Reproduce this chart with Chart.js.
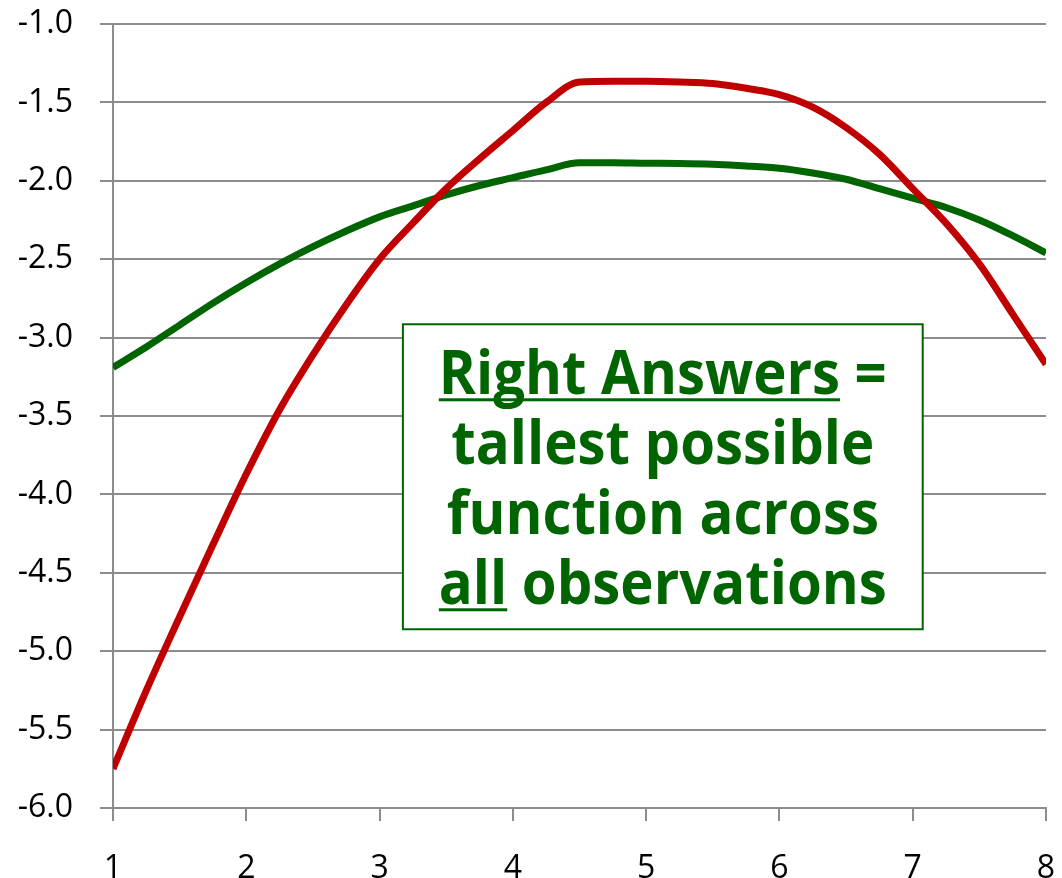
<!DOCTYPE html>
<html>
<head>
<meta charset="utf-8">
<script src="https://cdn.jsdelivr.net/npm/chart.js@4.4.1/dist/chart.umd.min.js"></script>
<style>
  html, body { margin: 0; padding: 0; background: #ffffff; }
  #wrap { width: 1062px; height: 878px; }
</style>
</head>
<body>
<div id="wrap"><canvas id="chartCanvas" width="1062" height="878"></canvas></div>
<script>
// x positions shared by both curves
const xValues = [1, 1.25, 1.5, 1.75, 2, 2.25, 2.5, 2.75, 3, 3.25, 3.5, 3.75, 4, 4.25, 4.5,
                 4.75, 5, 5.25, 5.5, 5.75, 6, 6.25, 6.5, 6.75, 7, 7.25, 7.5, 7.75, 8];

// red curve (sharp peak)
const redValues = [-5.75, -5.25, -4.78, -4.32, -3.87, -3.46, -3.11, -2.79, -2.5, -2.27, -2.05,
                   -1.86, -1.68, -1.5, -1.37, -1.365, -1.365, -1.37, -1.38, -1.41, -1.45,
                   -1.53, -1.66, -1.83, -2.05, -2.27, -2.53, -2.85, -3.17];

// green curve (tallest across all observations)
const greenValues = [-3.19, -3.06, -2.92, -2.78, -2.65, -2.53, -2.42, -2.32, -2.23, -2.16, -2.09,
                     -2.03, -1.98, -1.93, -1.885, -1.885, -1.888, -1.89, -1.895, -1.905, -1.92,
                     -1.95, -1.99, -2.05, -2.11, -2.17, -2.25, -2.35, -2.46];

const xTicks = [1, 2, 3, 4, 5, 6, 7, 8];
const yTicks = [-1.0, -1.5, -2.0, -2.5, -3.0, -3.5, -4.0, -4.5, -5.0, -5.5, -6.0];

const noteLines = [
  [{ text: "Right Answers", underline: true }, { text: " =", underline: false }],
  [{ text: "tallest possible", underline: false }],
  [{ text: "function across", underline: false }],
  [{ text: "all", underline: true }, { text: " observations", underline: false }]
];

const GREEN = "#006400";
const RED = "#c00000";
const GRID = "#8c8c8c";

function toPoints(ys)
{
  let pts = [];
  for(let i = 0; i < xValues.length; i++)
  {
    pts.push({ x: xValues[i], y: ys[i] });
  }
  return pts;
}

// text box drawn on top of the chart
const notePlugin = {
  id: "noteBox",
  afterDatasetsDraw(chart)
  {
    const ctx = chart.ctx;
    const xs = chart.scales.x;
    const ys = chart.scales.y;
    const left = xs.getPixelForValue(3.175);
    const right = xs.getPixelForValue(7.075);
    const top = ys.getPixelForValue(-2.915);
    const bottom = ys.getPixelForValue(-4.86);

    ctx.save();
    ctx.fillStyle = "#ffffff";
    ctx.fillRect(left, top, right - left, bottom - top);
    ctx.strokeStyle = GREEN;
    ctx.lineWidth = 2;
    ctx.strokeRect(left, top, right - left, bottom - top);

    ctx.font = "bold 60px 'Open Sans'";
    ctx.fillStyle = GREEN;
    ctx.textBaseline = "alphabetic";
    // squeeze horizontally so the first line is as wide as in the picture
    const squeeze = 448 / ctx.measureText("Right Answers =").width;
    const cx = (left + right) / 2;
    const firstBase = top + 70;

    for(let l = 0; l < noteLines.length; l++)
    {
      const parts = noteLines[l];
      let full = parts.map(p => p.text).join("");
      let w = ctx.measureText(full).width * squeeze;
      let x = cx - w / 2;
      let base = firstBase + l * 70;
      for(let p = 0; p < parts.length; p++)
      {
        let pw = ctx.measureText(parts[p].text).width * squeeze;
        ctx.save();
        ctx.translate(x, base);
        ctx.scale(squeeze, 1);
        ctx.fillText(parts[p].text, 0, 0);
        ctx.restore();
        if(parts[p].underline)
        {
          ctx.fillRect(x, base + 4, pw, 3);
        }
        x += pw;
      }
    }
    ctx.restore();
  }
};

const data = {
  datasets: [
    {
      label: "red",
      data: toPoints(redValues),
      borderColor: RED,
      borderWidth: 7,
      pointRadius: 0,
      cubicInterpolationMode: "monotone",
      fill: false
    },
    {
      label: "green",
      data: toPoints(greenValues),
      borderColor: GREEN,
      borderWidth: 7,
      pointRadius: 0,
      cubicInterpolationMode: "monotone",
      fill: false
    }
  ]
};

const options = {
  responsive: false,
  animation: false,
  layout: { padding: { top: 24, right: 16, bottom: 0, left: 0 } },
  plugins: { legend: { display: false }, tooltip: { enabled: false } },
  scales: {
    x: {
      type: "linear",
      min: 1,
      max: 8,
      afterBuildTicks: (scale) => { scale.ticks = xTicks.map(v => ({ value: v })); },
      afterFit: (scale) => {
        scale.height = 70;
        scale.paddingLeft = 0;
        scale.paddingRight = 0;
      },
      grid: { drawOnChartArea: false, drawTicks: true, tickLength: 13, color: GRID, lineWidth: 2 },
      border: { color: GRID, width: 2 },
      ticks: {
        color: "#000000",
        font: { family: "'Open Sans'", size: 32 },
        padding: 29,
        maxRotation: 0,
        autoSkip: false
      }
    },
    y: {
      type: "linear",
      min: -6,
      max: -1,
      afterBuildTicks: (scale) => { scale.ticks = yTicks.map(v => ({ value: v })); },
      afterFit: (scale) => {
        scale.width = 113;
        scale.paddingTop = 0;
        scale.paddingBottom = 0;
      },
      grid: { drawTicks: true, tickLength: 13, color: GRID, lineWidth: 2 },
      border: { color: GRID, width: 2 },
      ticks: {
        color: "#000000",
        font: { family: "'Open Sans'", size: 32 },
        padding: 27,
        callback: (v) => Number(v).toFixed(1)
      }
    }
  }
};

new Chart(document.getElementById("chartCanvas"), {
  type: "line",
  data: data,
  options: options,
  plugins: [notePlugin]
});
</script>
</body>
</html>
